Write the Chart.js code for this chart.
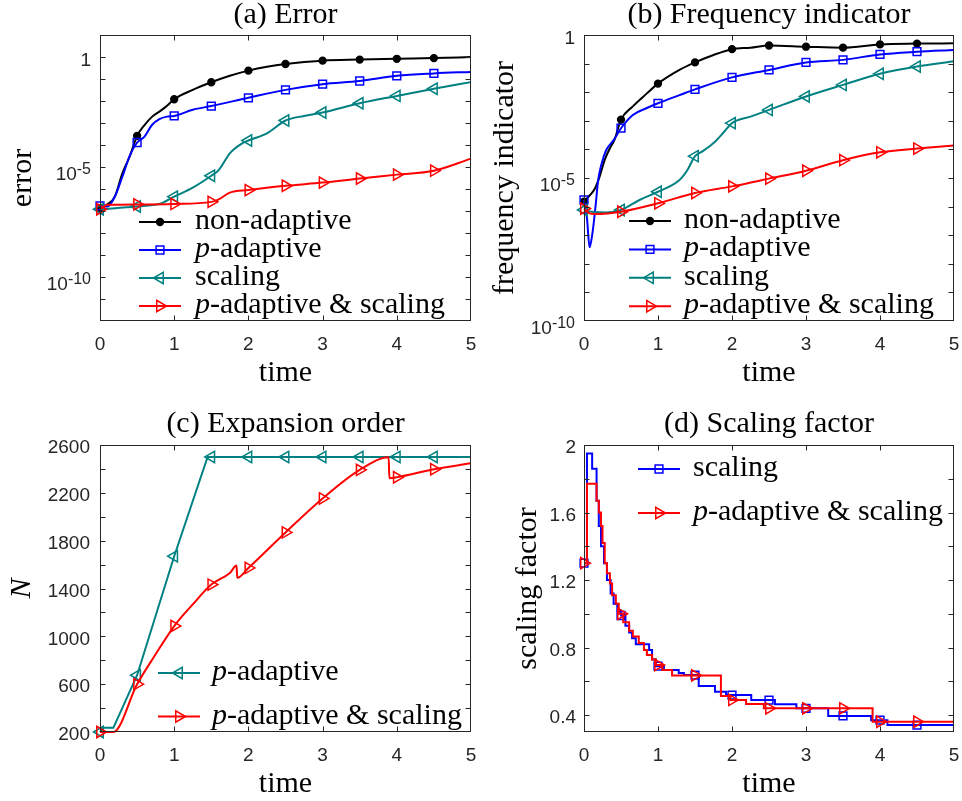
<!DOCTYPE html>
<html>
<head>
<meta charset="utf-8">
<script src="https://cdn.jsdelivr.net/npm/chart.js@4.4.1/dist/chart.umd.min.js"></script>
<style>
  html, body { margin: 0; padding: 0; background: #fff; }
  #wrap { position: relative; width: 962px; height: 801px; }
  canvas { position: absolute; }
</style>
</head>
<body>
<div id="wrap">
  <canvas id="cA" width="481" height="400" style="left:0;top:0"></canvas>
  <canvas id="cB" width="481" height="400" style="left:481px;top:0"></canvas>
  <canvas id="cC" width="481" height="401" style="left:0;top:400px"></canvas>
  <canvas id="cD" width="481" height="401" style="left:481px;top:400px"></canvas>
</div>
<script>
// ── fonts / colours ──
const SERIF = '"Liberation Serif", "Times New Roman", serif';
const SANS = '"Liberation Sans", Arial, sans-serif';
const INK = '#262626';
const TEAL = '#008080';
const TL = 5;
const FS = 30;

// ── shared ticks ──
const timeTicks = [0, 1, 2, 3, 4, 5];
const markTimes = [0, 0.5, 1, 1.5, 2, 2.5, 3, 3.5, 4, 4.5];

// ── (a) error ──
const aYTicks = [1e-12, 1e-11, 1e-10, 1e-9, 1e-8, 1e-7, 1e-6, 1e-5, 1e-4, 1e-3, 1e-2, 1e-1, 1, 10];
const aYLabelExp = [0, -5, -10];
const aNonT = [0, 0.1, 0.2, 0.3, 0.4, 0.5, 0.6, 0.7, 0.8, 0.9, 1, 1.25, 1.5, 1.75, 2, 2.25, 2.5, 3, 3.5, 4, 4.5, 5];
const aNonY = [1.3e-7, 2.0e-7, 4.5e-7, 5.0e-6, 3.0e-5, 2.6e-4, 8.1e-4, 1.9e-3, 3.3e-3, 5.9e-3, 1.2e-2, 3.2e-2, 7.1e-2, 0.14, 0.24, 0.36, 0.48, 0.68, 0.76, 0.83, 0.89, 1.0];
const aPadT = [0, 0.1, 0.2, 0.3, 0.4, 0.5, 0.6, 0.7, 0.8, 0.9, 1, 1.25, 1.5, 2, 2.5, 3, 3.5, 4, 4.5, 5];
const aPadY = [1.7e-7, 1.6e-7, 4.5e-7, 3.5e-6, 3.2e-5, 1.3e-4, 2.4e-4, 8.1e-4, 1.5e-3, 1.95e-3, 2.1e-3, 4.0e-3, 5.9e-3, 1.4e-2, 3.2e-2, 5.8e-2, 8.1e-2, 0.14, 0.18, 0.21];
const aScT = [0, 0.5, 0.8, 1, 1.25, 1.5, 1.6, 1.75, 1.9, 2, 2.25, 2.5, 2.75, 3, 3.5, 4, 4.5, 5];
const aScY = [1.2e-7, 1.6e-7, 2.1e-7, 4.5e-7, 1.15e-6, 4.0e-6, 7.2e-6, 4.2e-5, 1.1e-4, 1.6e-4, 3.4e-4, 1.3e-3, 2.1e-3, 3.0e-3, 7.9e-3, 1.7e-2, 3.6e-2, 7.2e-2];
const aPsT = [0, 0.1, 0.5, 1, 1.5, 1.6, 1.75, 2, 2.5, 3, 3.5, 4, 4.5, 5];
const aPsY = [1.2e-7, 1.9e-7, 2.0e-7, 2.1e-7, 2.6e-7, 3.4e-7, 6.8e-7, 8.9e-7, 1.4e-6, 1.95e-6, 3.0e-6, 4.5e-6, 6.8e-6, 2.4e-5];

// ── (b) frequency indicator ──
const bYTicks = [1e-10, 1e-9, 1e-8, 1e-7, 1e-6, 1e-5, 1e-4, 1e-3, 1e-2, 1e-1, 1];
const bYLabelExp = [0, -5, -10];
const bNonT = [0, 0.08, 0.15, 0.21, 0.28, 0.35, 0.41, 0.5, 0.66, 0.85, 1, 1.29, 1.5, 1.75, 2, 2.25, 2.5, 3, 3.5, 4, 4.5, 5];
const bNonY = [1.5e-6, 2.5e-6, 4.4e-6, 1.1e-5, 4.3e-5, 1.1e-4, 2.1e-4, 1.1e-3, 3.2e-3, 9.1e-3, 2.0e-2, 6.0e-2, 0.11, 0.20, 0.32, 0.36, 0.43, 0.39, 0.36, 0.47, 0.50, 0.51];
const bPadT = [0, 0.04, 0.075, 0.11, 0.13, 0.16, 0.19, 0.24, 0.3, 0.4, 0.5, 0.66, 0.85, 1, 1.29, 1.5, 2, 2.5, 3, 3.5, 4, 4.5, 5];
const bPadY = [1.7e-6, 4.0e-7, 3.8e-8, 1.0e-7, 2.5e-7, 1.3e-6, 7.9e-6, 3.3e-5, 9.5e-5, 2.1e-4, 5.5e-4, 1.6e-3, 2.8e-3, 4.1e-3, 7.9e-3, 1.26e-2, 3.3e-2, 6.0e-2, 0.11, 0.135, 0.21, 0.26, 0.30];
const bScT = [0, 0.11, 0.3, 0.5, 0.75, 1, 1.29, 1.4, 1.5, 1.6, 1.75, 1.9, 2, 2.25, 2.5, 3, 3.5, 4, 4.5, 5];
const bScY = [7.6e-7, 6.6e-7, 6.2e-7, 7.6e-7, 1.7e-6, 3.3e-6, 8.5e-6, 1.95e-5, 5.8e-5, 8.5e-5, 1.66e-4, 4.3e-4, 8.3e-4, 1.4e-3, 2.4e-3, 7.1e-3, 1.8e-2, 4.4e-2, 7.9e-2, 0.12];
const bPsT = [0, 0.07, 0.15, 0.5, 1, 1.5, 2, 2.5, 3, 3.5, 4, 4.5, 5];
const bPsY = [8.5e-7, 5.9e-7, 5.5e-7, 6.6e-7, 1.3e-6, 3.0e-6, 5.1e-6, 9.5e-6, 1.8e-5, 4.2e-5, 7.9e-5, 1.07e-4, 1.38e-4];

// ── (c) expansion order ──
const cYTicks = [200, 400, 600, 800, 1000, 1200, 1400, 1600, 1800, 2000, 2200, 2400, 2600];
const cYLabels = ['200', '', '600', '', '1000', '', '1400', '', '1800', '', '2200', '', '2600'];
const cPadT = [0, 0.04, 0.18, 0.5, 1, 1.45, 1.5, 2, 2.5, 3, 3.5, 4, 4.5, 5];
const cPadN = [200, 235, 235, 675, 1670, 2500, 2500, 2500, 2500, 2500, 2500, 2500, 2500, 2500];
const cPsT = [0, 0.18, 0.5, 0.75, 1, 1.25, 1.5, 1.75, 1.84, 1.85, 2, 2.5, 3, 3.5, 3.89, 3.9, 4, 4.5, 5];
const cPsN = [200, 200, 600, 850, 1086, 1267, 1433, 1530, 1592, 1489, 1572, 1869, 2153, 2392, 2497, 2322, 2330, 2397, 2447];

// ── (d) scaling factor ──
const dYTicks = [0.4, 0.6, 0.8, 1.0, 1.2, 1.4, 1.6, 1.8, 2.0];
const dYLabels = ['0.4', '', '0.8', '', '1.2', '', '1.6', '', '2'];
const dScT = [0, 0.04, 0.11, 0.17, 0.20, 0.23, 0.27, 0.31, 0.36, 0.40, 0.45, 0.50, 0.56, 0.61, 0.65, 0.70, 0.88, 0.92, 0.97, 1.00,
  1.08, 1.28, 1.35, 1.50, 1.55, 1.77, 1.92, 2.00, 2.26, 2.50, 2.58, 2.87, 3.00, 3.30, 3.50, 3.88, 4.00, 4.10, 4.50, 5.00];
const dScY = [1.30, 1.95, 1.86, 1.67, 1.52, 1.40, 1.30, 1.20, 1.12, 1.06, 1.02, 0.99, 0.93, 0.89, 0.855, 0.82, 0.785, 0.73, 0.69, 0.69,
  0.667, 0.65, 0.637, 0.637, 0.572, 0.538, 0.519, 0.519, 0.489, 0.489, 0.464, 0.44, 0.44, 0.395, 0.395, 0.37, 0.37, 0.341, 0.341, 0.341];
const dPsT = [0, 0.04, 0.17, 0.20, 0.23, 0.25, 0.28, 0.31, 0.35, 0.38, 0.43, 0.47, 0.50, 0.53, 0.61, 0.66, 0.74, 0.81, 0.85, 0.92,
  0.97, 1.00, 1.06, 1.19, 1.50, 1.85, 1.98, 2.00, 2.19, 2.43, 2.50, 3.00, 3.50, 3.90, 4.00, 4.50, 5.00];
const dPsY = [1.30, 1.77, 1.67, 1.60, 1.52, 1.42, 1.30, 1.24, 1.18, 1.11, 1.06, 1.00, 1.00, 0.95, 0.90, 0.865, 0.827, 0.785, 0.756, 0.73,
  0.697, 0.697, 0.667, 0.635, 0.635, 0.513, 0.49, 0.49, 0.466, 0.44, 0.44, 0.44, 0.44, 0.361, 0.361, 0.361, 0.361];

// ── helpers ──
function pts(t, v) { return t.map((x, i) => ({ x: x, y: v[i] })); }
function isMark(c) { const r = c.raw; return !!r && markTimes.some(m => Math.abs(m - r.x) < 1e-9); }

function series(label, t, v, color, m, extra) {
  return Object.assign({
    label: label, data: pts(t, v),
    borderColor: color, borderWidth: 2,
    pointStyle: m.style, pointRotation: m.rot, markR: m.r,
    pointRadius: c => isMark(c) ? m.r : 0, pointHoverRadius: 0,
    pointBorderColor: color, pointBackgroundColor: m.fill ? color : 'rgba(0,0,0,0)', pointBorderWidth: 1.5,
    fill: false, clip: false, tension: 0.4, cubicInterpolationMode: 'monotone'
  }, extra || {});
}
const DOT = { style: 'circle', rot: 0, r: 3.4, fill: true };
const SQ = { style: 'rect', rot: 0, r: 5.5 };
const LT = { style: 'triangle', rot: -90, r: 6.5 };
const RT = { style: 'triangle', rot: 90, r: 6.5 };
const STEP = { stepped: 'before', tension: 0, cubicInterpolationMode: 'default' };
function stack(list) { list.forEach((d, i) => { d.order = list.length - 1 - i; }); return list; }

function drawLogLabels(chart, exps) {
  const ctx = chart.ctx, ys = chart.scales.y, xr = chart.chartArea.left - 9;
  ctx.fillStyle = INK; ctx.textAlign = 'right'; ctx.textBaseline = 'alphabetic';
  exps.forEach(e => {
    const y = ys.getPixelForValue(Math.pow(10, e));
    if (e === 0) { ctx.font = '19px ' + SANS; ctx.fillText('1', xr, y + 9); return; }
    const sup = '-' + Math.abs(e);
    ctx.font = '16px ' + SANS;
    const w = ctx.measureText(sup).width;
    ctx.fillText(sup, xr, y + 7);
    ctx.font = '19px ' + SANS;
    ctx.fillText('10', xr - w, y + 13);
  });
}

function drawLegend(chart, L) {
  const ctx = chart.ctx;
  chart.data.datasets.forEach((ds, i) => {
    const y = L.y + i * L.dy;
    ctx.strokeStyle = ds.borderColor; ctx.lineWidth = 2;
    ctx.beginPath(); ctx.moveTo(L.x, y); ctx.lineTo(L.x + 42, y); ctx.stroke();
    ctx.lineWidth = 1.5; ctx.fillStyle = ds.pointBackgroundColor;
    Chart.helpers.drawPoint(ctx, { pointStyle: ds.pointStyle, rotation: ds.pointRotation, radius: ds.markR, borderWidth: 1.5 }, L.x + 21, y);
    ctx.fillStyle = '#000'; ctx.textAlign = 'left'; ctx.textBaseline = 'alphabetic';
    let tx = L.x + L.tx, label = ds.label;
    const base = y + 7;
    if (label.startsWith('p-')) {
      ctx.font = 'italic ' + FS + 'px ' + SERIF;
      ctx.fillText('p', tx, base);
      tx += ctx.measureText('p').width;
      label = label.slice(1);
    }
    ctx.font = FS + 'px ' + SERIF;
    ctx.fillText(label, tx, base);
  });
}

// box, inward ticks, log labels, legend
const matlabAxes = {
  id: 'matlabAxes',
  afterDraw(chart, args, opts) {
    const ctx = chart.ctx, a = chart.chartArea, xs = chart.scales.x, ys = chart.scales.y;
    ctx.save();
    ctx.strokeStyle = INK; ctx.lineWidth = 1;
    const L = Math.round(a.left) + 0.5, R = Math.round(a.right) - 0.5, T = Math.round(a.top) + 0.5, B = Math.round(a.bottom) - 0.5;
    ctx.strokeRect(L, T, R - L, B - T);
    ctx.beginPath();
    xs.ticks.forEach(t => {
      const px = Math.round(xs.getPixelForValue(t.value)) + 0.5;
      if (px <= L + 1 || px >= R - 1) return;
      ctx.moveTo(px, B); ctx.lineTo(px, B - TL);
      ctx.moveTo(px, T); ctx.lineTo(px, T + TL);
    });
    ys.ticks.forEach(t => {
      const py = Math.round(ys.getPixelForValue(t.value)) + 0.5;
      if (py <= T + 1 || py >= B - 1) return;
      ctx.moveTo(L, py); ctx.lineTo(L + TL, py);
      ctx.moveTo(R, py); ctx.lineTo(R - TL, py);
    });
    ctx.stroke();
    if (opts.logExp) drawLogLabels(chart, opts.logExp);
    if (opts.legend) drawLegend(chart, opts.legend);
    ctx.restore();
  }
};

function makeChart(id, cfg) {
  const yBase = {
    afterFit: s => { s.width = cfg.yWidth; s.paddingTop = 0; s.paddingBottom = 0; },
    grid: { display: false, drawTicks: false }, border: { display: false },
    title: { display: true, text: cfg.yTitle, color: '#000',
      font: { family: SERIF, size: FS, style: cfg.yItalic ? 'italic' : 'normal', lineHeight: 1 },
      padding: { top: cfg.yTitlePad, bottom: 0 } }
  };
  return new Chart(document.getElementById(id), {
    type: 'line',
    data: { datasets: cfg.datasets },
    options: {
      responsive: false, animation: false, events: [],
      layout: { padding: cfg.pad },
      plugins: {
        legend: { display: false }, tooltip: { enabled: false },
        title: { display: true, text: cfg.title, fullSize: false, color: '#000',
          font: { family: SERIF, size: FS, weight: 'normal', lineHeight: 1 }, padding: { top: 0, bottom: cfg.titleGap } },
        matlabAxes: { logExp: cfg.logExp, legend: cfg.legend }
      },
      scales: {
        x: {
          type: 'linear', min: 0, max: 5,
          afterBuildTicks: s => { s.ticks = timeTicks.map(v => ({ value: v })); },
          afterFit: s => { s.height = 68; s.paddingLeft = 0; s.paddingRight = 0; },
          grid: { display: false, drawTicks: false }, border: { display: false },
          ticks: { font: { family: SANS, size: 19 }, color: INK, padding: 12, maxRotation: 0, autoSkip: false },
          title: { display: true, text: 'time', color: '#000', font: { family: SERIF, size: FS, lineHeight: 1 }, padding: { top: 0, bottom: 1 } }
        },
        y: Object.assign(yBase, cfg.y)
      }
    },
    plugins: [matlabAxes]
  });
}

function logAxis(min, max, list) {
  return { type: 'logarithmic', min: min, max: max,
    afterBuildTicks: s => { s.ticks = list.map(v => ({ value: v })); },
    ticks: { display: false } };
}
function linAxis(min, max, list, labels, pad) {
  return { type: 'linear', min: min, max: max,
    afterBuildTicks: s => { s.ticks = list.map(v => ({ value: v })); },
    ticks: { callback: (v, i) => labels[i], font: { family: SANS, size: 19 }, color: INK, padding: pad, labelOffset: 3, autoSkip: false } };
}

makeChart('cA', {
  title: '(a) Error', titleGap: 5, yTitle: 'error', yTitlePad: 8, yWidth: 100,
  pad: { left: 0, right: 10, top: 0, bottom: 11 },
  y: logAxis(1e-12, 10, aYTicks), logExp: aYLabelExp,
  legend: { x: 139, tx: 56, y: 222, dy: 28 },
  datasets: stack([
    series('non-adaptive', aNonT, aNonY, '#000000', DOT),
    series('p-adaptive', aPadT, aPadY, '#0000ff', SQ),
    series('scaling', aScT, aScY, TEAL, LT),
    series('p-adaptive & scaling', aPsT, aPsY, '#ff0000', RT)
  ])
});

makeChart('cB', {
  title: '(b) Frequency indicator', titleGap: 5, yTitle: 'frequency indicator', yTitlePad: 9, yWidth: 103,
  pad: { left: 0, right: 7, top: 0, bottom: 11 },
  y: logAxis(1e-10, 1, bYTicks), logExp: bYLabelExp,
  legend: { x: 148, tx: 55, y: 221, dy: 28.4 },
  datasets: stack([
    series('non-adaptive', bNonT, bNonY, '#000000', DOT),
    series('p-adaptive', bPadT, bPadY, '#0000ff', SQ),
    series('scaling', bScT, bScY, TEAL, LT),
    series('p-adaptive & scaling', bPsT, bPsY, '#ff0000', RT)
  ])
});

makeChart('cC', {
  title: '(c) Expansion order', titleGap: 6, yTitle: 'N', yItalic: true, yTitlePad: 7, yWidth: 100,
  pad: { left: 0, right: 10, top: 9, bottom: 1 },
  y: linAxis(200, 2600, cYTicks, cYLabels, 10),
  legend: { x: 158, tx: 54, y: 273, dy: 43.5 },
  datasets: stack([
    series('p-adaptive', cPadT, cPadN, TEAL, LT, { tension: 0, cubicInterpolationMode: 'default' }),
    series('p-adaptive & scaling', cPsT, cPsN, '#ff0000', RT)
  ])
});

makeChart('cD', {
  title: '(d) Scaling factor', titleGap: 6, yTitle: 'scaling factor', yTitlePad: 32, yWidth: 103,
  pad: { left: 0, right: 7, top: 9, bottom: 1 },
  y: linAxis(0.3, 2.0, dYTicks, dYLabels, 8),
  legend: { x: 157, tx: 55, y: 69, dy: 44 },
  datasets: stack([
    series('scaling', dScT, dScY, '#0000ff', SQ, STEP),
    series('p-adaptive & scaling', dPsT, dPsY, '#ff0000', RT, STEP)
  ])
});
</script>
</body>
</html>
